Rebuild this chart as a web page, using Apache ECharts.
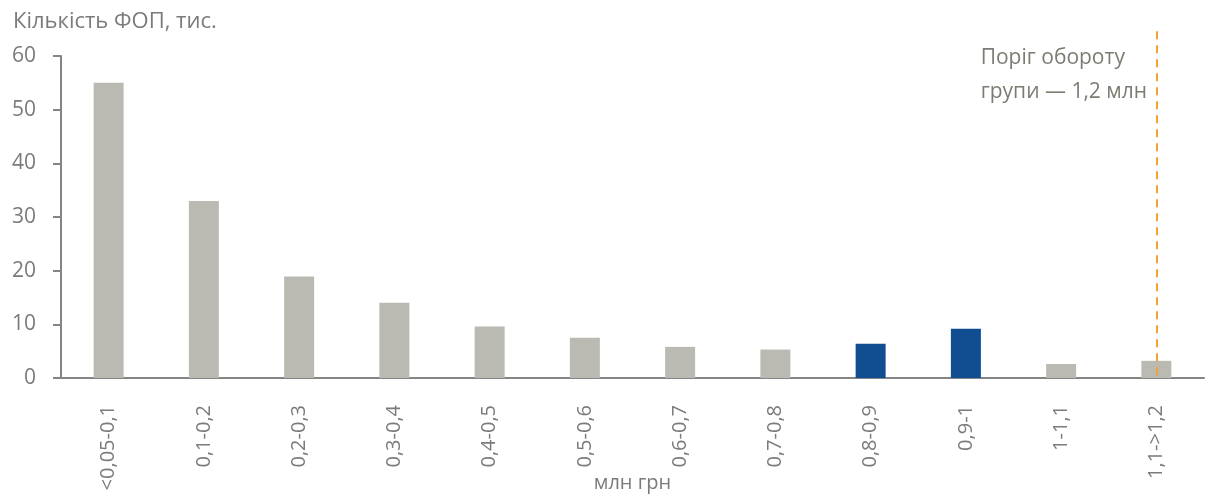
<!DOCTYPE html>
<html>
<head>
<meta charset="utf-8">
<script src="https://cdn.jsdelivr.net/npm/echarts@6/dist/echarts.min.js"></script>
<style>
  html, body { margin: 0; padding: 0; background: #fff; }
  #main { width: 1206px; height: 495px; }
</style>
</head>
<body>
<div id="main"></div>
<script>
// ranges of turnover, mln UAH
const categories = ['<0,05-0,1', '0,1-0,2', '0,2-0,3', '0,3-0,4', '0,4-0,5', '0,5-0,6',
  '0,6-0,7', '0,7-0,8', '0,8-0,9', '0,9-1', '1-1,1', '1,1->1,2']
// number of FOPs, thousands
const values = [55, 33, 18.9, 14, 9.6, 7.5, 5.8, 5.3, 6.4, 9.2, 2.6, 3.2]
// bars that are highlighted
const highlighted = ['0,8-0,9', '0,9-1']
const thresholdCategory = '1,1->1,2'
const yTicks = [0, 10, 20, 30, 40, 50, 60]

const grey = '#bbbab2'
const blue = '#114d91'
const axisGrey = '#858585'
const textGrey = '#7b7b7b'
const font = '"Open Sans", Lato, sans-serif'

const chart = echarts.init(document.getElementById('main'))

chart.setOption({
  animation: false,
  textStyle: { fontFamily: font },
  title: {
    text: 'Кількість ФОП, тис.',
    left: 8,
    top: 6,
    textStyle: { fontSize: 22, fontWeight: 'normal', color: textGrey, fontFamily: font }
  },
  graphic: [{
    type: 'text',
    right: 59,
    top: 41,
    style: {
      text: 'Поріг обороту\nгрупи — 1,2 млн',
      fill: '#7d7c72',
      font: '21px ' + font,
      align: 'right',
      lineHeight: 34
    }
  }],
  grid: [
    { left: 61, right: 2, top: 56, bottom: 117, outerBoundsMode: 'none' },
    // same plot area, stretched higher, only for the threshold line
    { left: 61, right: 2, top: 29, bottom: 117, outerBoundsMode: 'none' }
  ],
  xAxis: [{
    type: 'category',
    gridIndex: 0,
    data: categories,
    name: 'млн грн',
    nameLocation: 'middle',
    nameGap: 95,
    nameMoveOverlap: false,
    nameTextStyle: { fontSize: 20, color: textGrey, fontFamily: font },
    axisLine: { lineStyle: { color: axisGrey, width: 2 } },
    axisTick: { length: 8, lineStyle: { color: axisGrey, width: 2 } },
    axisLabel: { rotate: 90, fontSize: 20, color: textGrey, margin: 27, fontFamily: font }
  }, {
    type: 'category',
    gridIndex: 1,
    data: categories,
    show: false
  }],
  yAxis: [{
    type: 'value',
    gridIndex: 0,
    min: yTicks[0],
    max: yTicks[yTicks.length - 1],
    interval: 10,
    splitLine: { show: false },
    axisLine: { show: true, lineStyle: { color: axisGrey, width: 2 } },
    axisTick: { show: true, length: 8, lineStyle: { color: axisGrey, width: 2 } },
    axisLabel: { fontSize: 21, color: textGrey, margin: 25, fontFamily: font }
  }, {
    type: 'value',
    gridIndex: 1,
    min: 0,
    max: 65,
    show: false
  }],
  series: [{
    type: 'bar',
    xAxisIndex: 0,
    yAxisIndex: 0,
    barWidth: 30,
    data: values.map((v, i) => ({
      value: v,
      itemStyle: { color: highlighted.includes(categories[i]) ? blue : grey }
    }))
  }, {
    type: 'line',
    xAxisIndex: 1,
    yAxisIndex: 1,
    data: [],
    silent: true,
    markLine: {
      silent: true,
      symbol: 'none',
      label: { show: false },
      lineStyle: { color: '#f5a030', type: [8, 6], width: 2 },
      data: [[{ coord: [thresholdCategory, 0.5] }, { coord: [thresholdCategory, 64.8] }]]
    }
  }]
})
</script>
</body>
</html>
